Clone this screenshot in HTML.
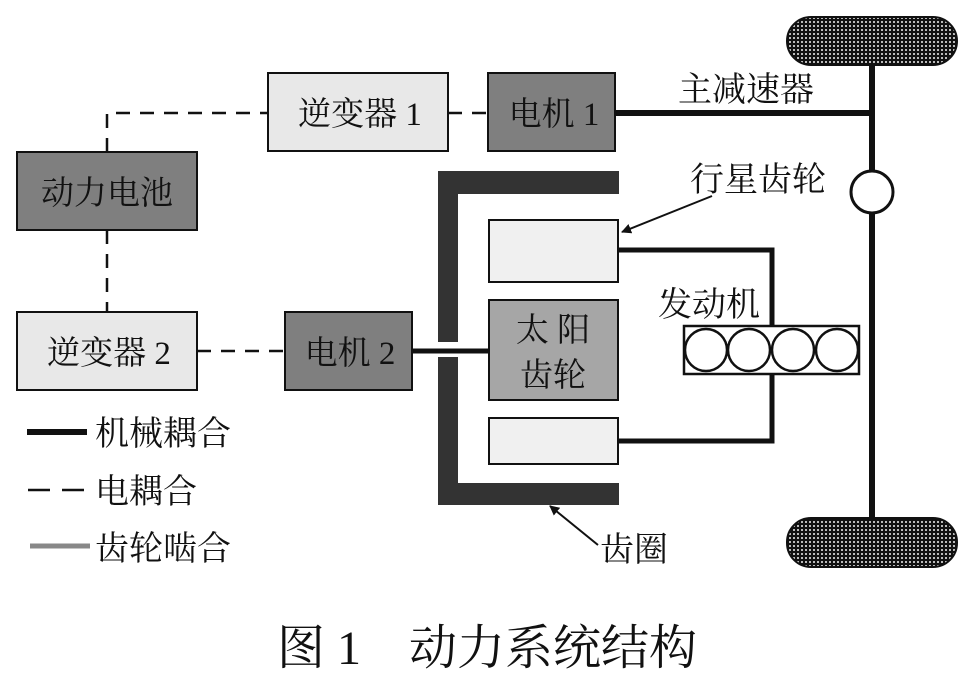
<!DOCTYPE html>
<html><head><meta charset="utf-8"><style>
html,body{margin:0;padding:0;background:#fff;}
svg{display:block;}
text{font-family:"Liberation Serif","Noto Serif CJK SC","Noto Sans CJK SC",serif;fill:#111;}
</style></head><body>
<svg width="971" height="677" viewBox="0 0 971 677" xmlns="http://www.w3.org/2000/svg">
<defs>
<pattern id="dots" width="4" height="4" patternUnits="userSpaceOnUse">
<rect width="4" height="4" fill="#111"/><rect x="1" y="1" width="2" height="2" fill="#bbb"/>
</pattern>
<marker id="ah" markerWidth="10" markerHeight="10" refX="9" refY="5" orient="auto" markerUnits="userSpaceOnUse">
<path d="M0,0 L10,5 L0,10 z" fill="#111"/>
</marker>
</defs>
<rect x="787" y="17" width="170" height="48" rx="24" fill="url(#dots)" stroke="#111" stroke-width="2"/>
<rect x="787" y="518" width="170" height="49" rx="24" fill="url(#dots)" stroke="#111" stroke-width="2"/>
<line x1="872" y1="64" x2="872" y2="519" stroke="#111" stroke-width="6"/>
<line x1="615" y1="113" x2="872" y2="113" stroke="#111" stroke-width="6"/>
<circle cx="872" cy="192" r="21" fill="#fff" stroke="#111" stroke-width="3"/>
<g stroke="#111" stroke-width="2.5" stroke-dasharray="14,10" fill="none">
<polyline points="107,152 107,113 268,113"/>
<line x1="448" y1="113" x2="488" y2="113"/>
<line x1="107" y1="230" x2="107" y2="312"/>
<line x1="197" y1="351" x2="285" y2="351"/>
</g>
<g stroke="#111" stroke-width="2">
<rect x="268" y="73" width="180" height="78" fill="#e8e8e8"/>
<rect x="488" y="73" width="127" height="78" fill="#7f7f7f"/>
<rect x="17" y="152" width="180" height="78" fill="#7f7f7f"/>
<rect x="17" y="312" width="180" height="78" fill="#e8e8e8"/>
<rect x="285" y="312" width="127" height="78" fill="#7f7f7f"/>
</g>
<g font-size="33" text-anchor="middle">
<text x="360" y="125">逆变器 1</text>
<text x="554" y="125">电机 1</text>
<text x="107" y="204">动力电池</text>
<text x="109" y="364">逆变器 2</text>
<text x="350" y="364">电机 2</text>
</g>
<g fill="#333">
<rect x="438" y="171" width="181" height="23"/>
<rect x="438" y="483" width="181" height="22"/>
<rect x="438" y="171" width="20" height="171"/>
<rect x="438" y="357" width="20" height="148"/>
</g>
<line x1="412" y1="351" x2="489" y2="351" stroke="#111" stroke-width="5"/>
<g stroke="#111" stroke-width="2">
<rect x="489" y="220" width="129" height="62" fill="#f0f0f0"/>
<rect x="489" y="300" width="129" height="100" fill="#a6a6a6"/>
<rect x="489" y="418" width="129" height="46" fill="#f0f0f0"/>
</g>
<g font-size="33" text-anchor="middle">
<text x="553" y="341">太 阳</text>
<text x="553" y="386">齿轮</text>
</g>
<polyline points="618,250 772,250 772,326" fill="none" stroke="#111" stroke-width="5"/>
<polyline points="772,374 772,441 618,441" fill="none" stroke="#111" stroke-width="5"/>
<rect x="684" y="326" width="175" height="48" fill="#fff" stroke="#111" stroke-width="2.5"/>
<g fill="#fff" stroke="#111" stroke-width="2.5">
<circle cx="706" cy="350" r="21"/><circle cx="749" cy="350" r="21"/>
<circle cx="793" cy="350" r="21"/><circle cx="837" cy="350" r="21"/>
</g>
<g font-size="34">
<text x="678" y="101">主减速器</text>
<text x="690" y="191">行星齿轮</text>
<text x="658" y="316">发动机</text>
<text x="600" y="561">齿圈</text>
</g>
<line x1="712" y1="196" x2="622" y2="232" stroke="#111" stroke-width="2" marker-end="url(#ah)"/>
<line x1="598" y1="545" x2="550" y2="506" stroke="#111" stroke-width="2" marker-end="url(#ah)"/>
<line x1="27" y1="432" x2="87" y2="432" stroke="#111" stroke-width="6"/>
<line x1="28" y1="490" x2="90" y2="490" stroke="#111" stroke-width="2.5" stroke-dasharray="22,12"/>
<line x1="30" y1="546" x2="90" y2="546" stroke="#888" stroke-width="5"/>
<g font-size="34">
<text x="95" y="445">机械耦合</text>
<text x="95" y="503">电耦合</text>
<text x="95" y="560">齿轮啮合</text>
</g>
<text x="487" y="664" font-size="48" text-anchor="middle">图 1　动力系统结构</text>
</svg>
</body></html>
